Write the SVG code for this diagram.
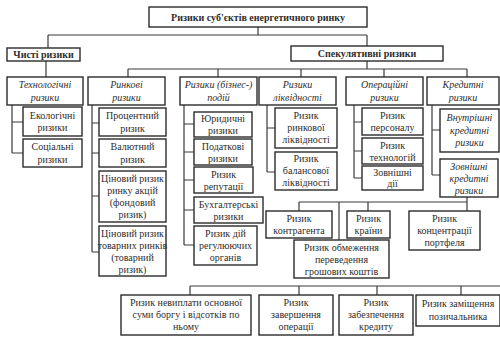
<svg xmlns="http://www.w3.org/2000/svg" width="500" height="338" viewBox="0 0 500 338">
<style>
.b{fill:#fff;stroke:#2b2b2b;stroke-width:1.4}
.c path{fill:none;stroke:#3a3a3a;stroke-width:1.2}
text{font-family:"Liberation Serif","Times New Roman",serif;font-size:10px;fill:#2e2e2e;text-anchor:middle}
.h{font-weight:bold}
.i{font-style:italic}
</style>
<rect width="500" height="338" fill="#fff"/>
<g class="c" id="connectors">
<path d="M258 27V35M48 35H367M48 35V48M367 35V46"/>
<path d="M46 61V77"/>
<path d="M367 61V69M128 69H467M128 69V77M218 69V77M301 69V77M384 69V77M467 69V77"/>
<path d="M12 105V153M12 122H23M12 153H23"/>
<path d="M92 105V252M92 123H99M92 153H99M92 196H99M92 252H99"/>
<path d="M184 105V245M184 124H194M184 152H194M184 180H194M184 210H194M184 245H194"/>
<path d="M267 105V172M267 128H275M267 172H275"/>
<path d="M354 105V178M354 122H362M354 151H362M354 178H362"/>
<path d="M432 105V175M432 130H440M432 175H440"/>
<path d="M467 197V211M299 202H467M299 202V211M368 202V211M339 202V240"/>
<path d="M190 286H500M190 286V295M299 286V295M377 286V295M461 286V295"/>
</g>
<g id="title"><rect class="b" x="149" y="7" width="218" height="20"/><text class="h" x="258" y="20.5">Ризики суб'єктів енергетичного ринку</text></g>
<g id="pure"><rect class="b" x="7" y="48" width="73" height="13"/><text class="h" x="43.5" y="58">Чисті ризики</text></g>
<g id="spec"><rect class="b" x="291" y="46" width="152" height="15"/><text class="h" x="367" y="57">Спекулятивні ризики</text></g>

<g id="tech"><rect class="b" x="7" y="77" width="76" height="28"/><text class="i" x="45" y="88">Технологічні</text><text class="i" x="45" y="100.5">ризики</text></g>
<g id="market"><rect class="b" x="88" y="77" width="77" height="28"/><text class="i" x="126.5" y="88">Ринкові</text><text class="i" x="126.5" y="100.5">ризики</text></g>
<g id="event"><rect class="b" x="180" y="77" width="77" height="28"/><text class="i" x="218.5" y="88">Ризики (бізнес-)</text><text class="i" x="218.5" y="100.5">подій</text></g>
<g id="liq"><rect class="b" x="259" y="77" width="77" height="28"/><text class="i" x="297.5" y="88">Ризики</text><text class="i" x="297.5" y="100.5">ліквідності</text></g>
<g id="oper"><rect class="b" x="346" y="77" width="77" height="28"/><text class="i" x="384.5" y="88">Операційні</text><text class="i" x="384.5" y="100.5">ризики</text></g>
<g id="credit"><rect class="b" x="427" y="77" width="72" height="28"/><text class="i" x="463" y="88">Кредитні</text><text class="i" x="463" y="100.5">ризики</text></g>

<g id="eco"><rect class="b" x="23" y="107" width="59" height="29"/><text x="52.5" y="118.5">Екологічні</text><text x="52.5" y="131">ризики</text></g>
<g id="soc"><rect class="b" x="23" y="139" width="59" height="28"/><text x="52.5" y="150">Соціальні</text><text x="52.5" y="162.5">ризики</text></g>

<g id="proc"><rect class="b" x="99" y="108" width="67" height="28"/><text x="132.5" y="119">Процентний</text><text x="132.5" y="131.5">ризик</text></g>
<g id="val"><rect class="b" x="99" y="139" width="67" height="28"/><text x="132.5" y="150">Валютний</text><text x="132.5" y="162.5">ризик</text></g>
<g id="fond"><rect class="b" x="99" y="171" width="67" height="51"/><text x="132.5" y="182">Ціновий ризик</text><text x="132.5" y="194">ринку акцій</text><text x="132.5" y="206">(фондовий</text><text x="132.5" y="218">ризик)</text></g>
<g id="tov"><rect class="b" x="99" y="226" width="67" height="50"/><text x="132.5" y="237">Ціновий ризик</text><text x="132.5" y="249">товарних ринків</text><text x="132.5" y="261">(товарний</text><text x="132.5" y="273">ризик)</text></g>

<g id="jur"><rect class="b" x="194" y="112" width="58" height="25"/><text x="223" y="122">Юридичні</text><text x="223" y="134">ризики</text></g>
<g id="pod"><rect class="b" x="194" y="139" width="58" height="26"/><text x="223" y="149.5">Податкові</text><text x="223" y="161.5">ризики</text></g>
<g id="rep"><rect class="b" x="194" y="167" width="59" height="26"/><text x="223.5" y="177.5">Ризик</text><text x="223.5" y="189.5">репутації</text></g>
<g id="buh"><rect class="b" x="194" y="197" width="69" height="26"/><text x="228.5" y="207.5">Бухгалтерські</text><text x="228.5" y="219.5">ризики</text></g>
<g id="reg"><rect class="b" x="194" y="226" width="63" height="39"/><text x="225.5" y="236.5">Ризик дій</text><text x="225.5" y="248.5">регулюючих</text><text x="225.5" y="260.5">органів</text></g>

<g id="rlik"><rect class="b" x="275" y="108" width="62" height="40"/><text x="306" y="119">Ризик</text><text x="306" y="131">ринкової</text><text x="306" y="143">ліквідності</text></g>
<g id="blik"><rect class="b" x="275" y="152" width="62" height="38"/><text x="306" y="162">Ризик</text><text x="306" y="174">балансової</text><text x="306" y="186">ліквідності</text></g>

<g id="pers"><rect class="b" x="362" y="108" width="61" height="27"/><text x="392.5" y="118.5">Ризик</text><text x="392.5" y="130.5">персоналу</text></g>
<g id="techn"><rect class="b" x="362" y="138" width="61" height="26"/><text x="392.5" y="148.5">Ризик</text><text x="392.5" y="160.5">технологій</text></g>
<g id="zovd"><rect class="b" x="362" y="166" width="61" height="24"/><text x="392.5" y="175.5">Зовнішні</text><text x="392.5" y="187">дії</text></g>

<g id="vnut"><rect class="b" x="440" y="109" width="59" height="43"/><text class="i" x="469.5" y="121">Внутрішні</text><text class="i" x="469.5" y="133.5">кредитні</text><text class="i" x="469.5" y="146">ризики</text></g>
<g id="zovn"><rect class="b" x="440" y="159" width="58" height="38"/><text class="i" x="469" y="169.5">Зовнішні</text><text class="i" x="469" y="181.5">кредитні</text><text class="i" x="469" y="193.5">ризики</text></g>

<g id="kontr"><rect class="b" x="266" y="211" width="66" height="27"/><text x="299" y="221.5">Ризик</text><text x="299" y="233.5">контрагента</text></g>
<g id="kraini"><rect class="b" x="347" y="211" width="43" height="27"/><text x="368.5" y="221.5">Ризик</text><text x="368.5" y="233.5">країни</text></g>
<g id="konc"><rect class="b" x="409" y="211" width="71" height="39"/><text x="444.5" y="221.5">Ризик</text><text x="444.5" y="233.5">концентрації</text><text x="444.5" y="245.5">портфеля</text></g>
<g id="obmezh"><rect class="b" x="294" y="240" width="95" height="38"/><text x="341.5" y="250.5">Ризик обмеження</text><text x="341.5" y="262.5">переведення</text><text x="341.5" y="274.5">грошових коштів</text></g>

<g id="nevypl"><rect class="b" x="121" y="295" width="130" height="40"/><text x="186" y="306">Ризик невиплати основної</text><text x="186" y="318">суми боргу і відсотків по</text><text x="186" y="330">ньому</text></g>
<g id="zaversh"><rect class="b" x="259" y="295" width="74" height="40"/><text x="296" y="306">Ризик</text><text x="296" y="318">завершення</text><text x="296" y="330">операції</text></g>
<g id="zabezp"><rect class="b" x="339" y="295" width="74" height="40"/><text x="376" y="306">Ризик</text><text x="376" y="318">забезпечення</text><text x="376" y="330">кредиту</text></g>
<g id="zamish"><rect class="b" x="416" y="295" width="84" height="31"/><text x="458" y="306.5">Ризик заміщення</text><text x="458" y="319.5">позичальника</text></g>
</svg>
